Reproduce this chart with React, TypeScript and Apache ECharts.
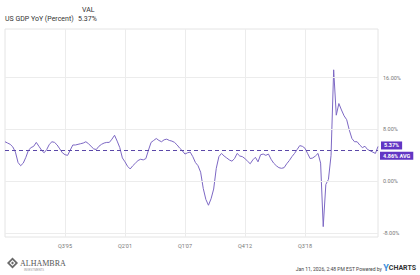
import React, { useEffect, useRef } from "react";
import * as echarts from "echarts";

const seriesName = "US GDP YoY (Percent)";
const lastValueLabel = "5.37%";
const avgValue = 4.86;
const avgLabel = "4.86% AVG";
const startYear = 1989;
const startQuarter = 4;

const gdpYoY: number[] = [
  6.1, 5.9, 5.7, 5.3, 4.5, 2.9, 2.4, 2.8, 3.7, 4.8,
  5.2, 5.4, 6.0, 5.4, 4.8, 4.4, 4.9, 5.7, 6.1, 6.0,
  5.6, 5.0, 4.4, 4.1, 4.0, 4.8, 5.6, 5.6, 5.7, 5.8,
  5.9, 6.1, 5.8, 5.4, 5.0, 4.9, 5.4, 5.7, 5.9, 6.0,
  6.0, 6.5, 7.1, 6.2, 5.2, 3.6, 3.0, 2.3, 1.9, 2.4,
  2.8, 3.2, 3.4, 3.3, 3.5, 4.8, 6.0, 6.3, 6.6, 6.3,
  6.1, 6.4, 6.5, 6.3, 6.2, 6.0, 5.6, 5.1, 4.7, 4.2,
  4.4, 4.5, 3.8, 2.9, 2.4, 1.4, -1.1, -2.8, -3.7, -2.7,
  -1.2, 2.0, 3.8, 4.3, 3.9, 3.6, 3.3, 3.1, 3.5, 4.3,
  3.9, 3.8, 3.5, 3.1, 2.7, 3.3, 3.7, 3.0, 4.1, 4.2,
  4.0, 4.2, 3.4, 2.8, 2.4, 2.1, 2.0, 2.1, 2.7, 3.2,
  3.8, 4.3, 4.9, 5.5, 5.4, 5.1, 4.3, 3.5, 3.6, 3.9,
  4.3, 2.8, -7.0, -0.5, 0.3, 4.0, 17.2, 10.2, 12.0, 11.0,
  10.1, 9.5, 7.9, 6.6, 6.1, 6.1, 5.6, 5.2, 5.4, 4.9,
  4.7, 4.5, 4.3, 5.37,
];

const yTickValues = [-8, 0, 8, 16];
const labelStartIndex = 23;
const labelStep = 23;
const labelEndIndex = 115;

const quarters: string[] = gdpYoY.map((_, i) => {
  const q0 = startQuarter - 1 + i;
  const y = startYear + Math.floor(q0 / 4);
  const q = (q0 % 4) + 1;
  return `Q${q}'${String(y % 100).padStart(2, "0")}`;
});

const FONT = "Roboto, 'Noto Sans', sans-serif";
const LINE = "#7d68c4";
const TAG = "#6236c4";

export default function App() {
  const ref = useRef<HTMLDivElement>(null);
  useEffect(() => {
    if (!ref.current) return;
    const chart = echarts.init(ref.current, undefined, { renderer: "svg" });
    const showIdx = (i: number) =>
      i >= labelStartIndex && i <= labelEndIndex && (i - labelStartIndex) % labelStep === 0;
    chart.setOption({
      animation: false,
      textStyle: { fontFamily: FONT },
      grid: {
        left: 5,
        right: 42,
        top: 29,
        bottom: 38,
        show: true,
        borderColor: "#e4e4e4",
        borderWidth: 1,
        containLabel: false,
      },
      xAxis: {
        type: "category",
        data: quarters,
        boundaryGap: false,
        axisLine: { show: false },
        axisTick: { show: false },
        axisLabel: {
          interval: (i: number) => showIdx(i),
          color: "#777",
          fontSize: 5.5,
          margin: 6,
          fontFamily: FONT,
        },
        splitLine: {
          show: true,
          interval: (i: number) => showIdx(i),
          lineStyle: { color: "#ececec", width: 1 },
        },
      },
      yAxis: {
        type: "value",
        position: "right",
        min: -8.6,
        max: 23.5,
        axisLine: { show: false },
        axisTick: { show: false, customValues: yTickValues },
        splitLine: { show: false },
        axisLabel: {
          customValues: yTickValues,
          formatter: (v: number) => `${v.toFixed(2)}%`,
          color: "#777",
          fontSize: 5.5,
          margin: 5,
          fontFamily: FONT,
        },
      },
      series: [
        {
          type: "line",
          name: seriesName,
          data: gdpYoY,
          showSymbol: false,
          symbol: "none",
          lineStyle: { color: LINE, width: 1 },
          itemStyle: { color: LINE },
          endLabel: {
            show: true,
            formatter: lastValueLabel,
            color: "#fff",
            backgroundColor: TAG,
            fontSize: 5.5,
            fontWeight: "bold",
            padding: [1, 3, 1, 3],
            distance: 3,
            offset: [0, -1],
            fontFamily: FONT,
          },
          markLine: {
            silent: true,
            symbol: "none",
            animation: false,
            data: [
              ...yTickValues.map((v) => ({
                yAxis: v,
                lineStyle: { color: "#ececec", type: "solid", width: 1 },
                label: { show: false },
              })),
              {
                yAxis: avgValue,
                lineStyle: { color: "#5b48a8", type: [4, 3], width: 1 },
                label: {
                  show: true,
                  position: "end",
                  formatter: avgLabel,
                  color: "#fff",
                  backgroundColor: TAG,
                  fontSize: 5.5,
                  fontWeight: "bold",
                  padding: [1, 3, 1, 3],
                  distance: 2,
                  offset: [0, 6],
                  fontFamily: FONT,
                },
              },
            ],
          },
          z: 3,
        },
      ],
      graphic: [
        { type: "text", left: 82, top: 6, style: { text: "VAL", fill: "#333", font: `7px ${FONT}` } },
        { type: "text", left: 5, top: 15, style: { text: seriesName, fill: "#333", font: `7px ${FONT}` } },
        { type: "text", left: 78, top: 15, style: { text: lastValueLabel, fill: "#333", font: `7px ${FONT}` } },
        {
          type: "polygon",
          shape: { points: [[12.5, 257.5], [18, 263], [12.5, 268.5], [7, 263]] },
          style: { fill: "#6a6a6a" },
        },
        {
          type: "polygon",
          shape: { points: [[12.5, 260], [15.5, 263], [12.5, 266], [9.5, 263]] },
          style: { fill: "#fff" },
        },
        {
          type: "polygon",
          shape: { points: [[12.5, 261.5], [14, 263], [12.5, 264.5], [11, 263]] },
          style: { fill: "#6a6a6a" },
        },
        {
          type: "text",
          left: 20,
          top: 259,
          style: { text: "ALHAMBRA", fill: "#555", font: `8px 'Liberation Serif', 'DejaVu Serif', serif` },
        },
        {
          type: "text",
          left: 24,
          top: 268,
          style: { text: "INVESTMENTS", fill: "#999", font: `3px ${FONT}` },
        },
        {
          type: "text",
          right: 38,
          top: 266,
          style: { text: "Jan 11, 2026, 2:48 PM EST Powered by", fill: "#444", font: `5px ${FONT}` },
        },
        {
          type: "text",
          right: 4,
          top: 263,
          style: {
            rich: {
              y: { fill: "#3b8fdc", font: `bold 9px ${FONT}` },
              c: { fill: "#333", font: `bold 7px ${FONT}` },
            },
            text: "{y|Y}{c|CHARTS}",
          },
        },
      ],
    });
    return () => chart.dispose();
  }, []);
  return (
    <div
      ref={ref}
      style={{ position: "fixed", left: 0, top: 0, width: 420, height: 275, background: "#fff" }}
    />
  );
}
